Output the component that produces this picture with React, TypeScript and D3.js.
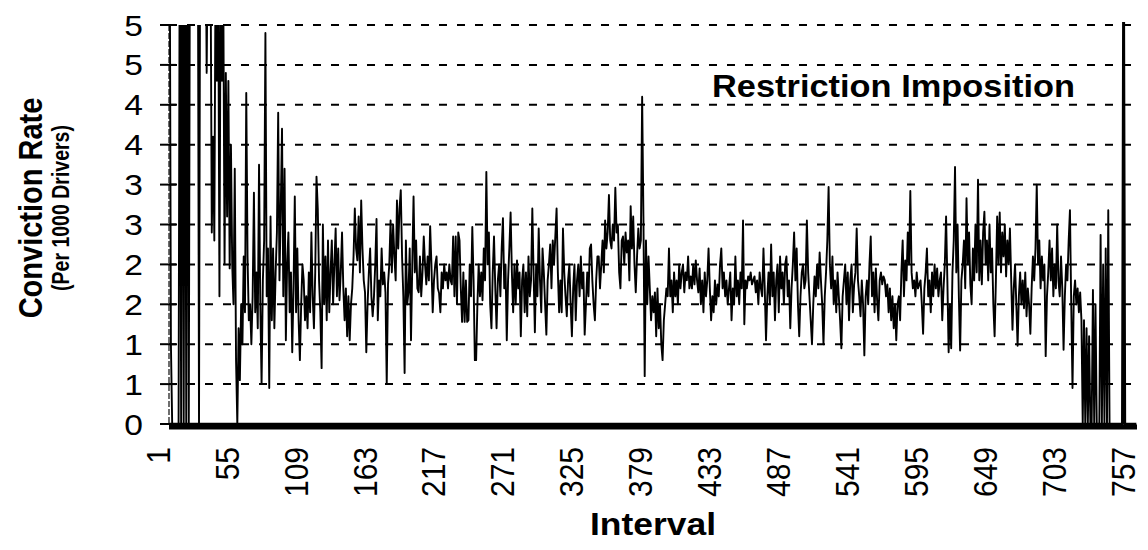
import React from "react";
import * as d3 from "d3";

const intervalTicks = [1, 55, 109, 163, 217, 271, 325, 379, 433, 487, 541, 595, 649, 703, 757];
const yTickValues = [0, 0.5, 1, 1.5, 2, 2.5, 3, 3.5, 4, 4.5, 5];
const yTickLabels = ["0", "1", "1", "2", "2", "3", "3", "4", "4", "5", "5"];
const categoryCount = 758;
const restrictionInterval = 748;
const restrictionPeak = 6;
const annotation = "Restriction Imposition";

const convictionRate = [
  6.5, 1.0, 0, 0, 0, 0, 0, 0, 7, 0,
  7, 0, 7, 0, 7, 0, 7, 6.5, 7, 6.8,
  7, 6.5, 7, 0, 7, 6.5, 7, 6.2, 6.8, 4.4,
  6.5, 7, 6, 2.4, 3.6, 2.3, 6, 4.3, 6, 1.6,
  6, 4.3, 5.5, 2.0, 4.4, 2.6, 4.3, 1.95, 3.5, 2.0,
  1.5, 3.2, 0.8, 0, 1.2, 0.55, 1.5, 1.0, 2.1, 1.4,
  4.15, 2.1, 1.3, 1.5, 1.0, 1.6, 2.9, 1.4, 1.9, 1.2,
  3.25, 1.5, 0.5, 1.8, 2.3, 4.9, 1.6, 2.2, 0.45, 2.6,
  1.3, 2.2, 1.2, 1.9, 2.4, 3.9, 1.8, 2.7, 3.7, 1.6,
  3.2, 1.05, 2.0, 2.4, 1.4, 1.9, 0.9, 1.7, 2.85, 1.4,
  2.2, 1.3, 0.8, 1.5, 2.0, 1.8, 1.3, 1.6, 1.2, 1.9,
  1.4, 2.4, 1.6, 1.2, 1.9, 3.1, 2.7, 1.8, 1.4, 0.7,
  2.5, 1.5, 2.1, 1.3, 2.3, 1.4, 1.9, 2.3, 1.5, 2.0,
  2.45, 1.6, 2.2, 1.55, 1.9, 2.4, 1.7, 1.3, 1.7, 1.1,
  1.6, 1.05, 1.5, 1.7, 2.1, 2.7, 2.2, 2.05, 2.6, 1.9,
  2.8, 2.2, 1.8, 1.65, 0.9, 1.5, 1.9, 2.2, 1.6, 1.35,
  1.6, 2.0, 2.57, 1.3, 1.8, 1.6, 2.2, 1.75, 1.9, 1.65,
  0.5, 1.75, 2.0, 2.55, 1.9, 2.5, 2.1, 1.8, 2.8, 2.2,
  2.7, 2.93, 2.1, 1.6, 0.64, 2.3, 1.5, 1.65, 2.2, 1.05,
  2.0, 2.85, 1.9, 2.3, 1.7, 1.65, 2.1, 1.6, 1.9, 2.35,
  2.0, 1.75, 2.1, 1.8, 2.48, 2.0, 1.4, 1.8, 2.0, 2.1,
  1.7, 1.64, 1.4, 1.9, 1.7, 2.0, 1.8, 1.9, 1.7, 2.0,
  1.8, 1.75, 2.35, 1.6, 2.35, 1.5, 2.4, 2.3, 1.7, 1.28,
  1.9, 1.28, 1.8, 1.28, 1.3, 2.0, 1.6, 2.47, 1.8, 0.8,
  0.8, 1.5, 2.0, 1.6, 1.9, 1.55, 2.2, 1.8, 3.16, 2.0,
  2.4, 1.5, 1.2, 1.9, 2.35, 1.7, 1.2, 1.8, 2.0, 1.6,
  2.2, 2.58, 1.7, 2.0, 1.05, 1.8, 2.2, 2.65, 1.9, 1.4,
  2.0, 1.5, 2.05, 1.7, 1.9, 1.1, 1.8, 2.0, 1.4, 1.9,
  1.35, 2.1, 1.6, 1.8, 2.7, 1.9, 1.15, 2.0, 1.6, 2.45,
  1.8, 1.4, 2.2, 1.9, 1.5, 1.12, 1.8, 2.0, 2.25, 1.7,
  2.3, 2.0, 2.35, 2.7, 1.9, 1.4, 1.8, 1.4, 2.45, 1.9,
  1.6, 1.35, 1.8, 2.0, 1.5, 1.1, 1.7, 2.0, 1.3, 1.8,
  2.0, 1.6, 2.1, 1.7, 1.9, 1.12, 1.5, 1.9, 1.6, 2.2,
  2.25, 1.8, 1.5, 1.3, 1.8, 2.1, 2.1, 1.7, 2.0, 2.3,
  1.9, 2.55, 2.2, 2.4, 2.87, 2.3, 2.2, 2.5, 2.3, 2.96,
  2.4, 2.5, 1.9, 1.7, 2.3, 2.35, 2.0, 2.4, 2.15, 2.3,
  1.8, 2.73, 2.2, 2.6, 2.0, 1.65, 2.1, 2.45, 2.2, 2.3,
  4.1, 2.6, 0.6, 2.3, 1.5, 2.1, 1.7, 1.3, 1.6, 1.4,
  1.65, 1.1, 1.7, 1.2, 1.5, 1.0, 0.8, 1.3, 1.5, 1.7,
  1.6, 2.2, 1.6, 1.8, 1.4, 1.9, 1.6, 1.8, 1.5, 2.0,
  1.7, 1.9, 2.0, 1.65, 1.9, 1.8, 2.1, 1.7, 1.85, 1.7,
  2.0, 1.75, 2.05, 1.8, 1.65, 1.95, 1.5, 1.8, 1.4, 1.9,
  1.6, 1.8, 2.2, 1.7, 1.3, 1.6, 1.4, 1.8, 1.5, 1.75,
  1.6, 2.0, 2.2, 1.7, 1.9, 1.6, 1.8, 1.5, 1.7, 1.9,
  1.3, 1.7, 1.5, 2.1, 1.6, 1.8, 1.5, 1.9, 1.7, 2.55,
  1.25, 1.8, 1.7, 1.85, 1.8, 1.9, 1.75, 1.8, 1.85, 1.65,
  1.8, 1.5, 1.9, 1.7, 1.6, 2.2, 1.7, 1.05, 1.6, 1.9,
  1.5, 2.25, 1.6, 1.9, 1.3, 1.8, 2.0, 1.4, 2.1, 1.7,
  1.9, 1.5, 2.0, 2.1, 1.6, 1.8, 1.2, 1.7, 2.0, 2.4,
  1.8, 2.2, 1.5, 1.1, 1.6, 1.9, 2.0, 1.7, 1.8, 2.55,
  1.9, 1.6, 1.3, 1.0, 1.5, 1.85, 1.6, 2.0, 1.7, 2.15,
  1.8, 1.5, 1.0, 1.6, 1.9, 2.3, 2.97, 2.0, 1.7, 2.1,
  1.5, 1.8, 1.4, 1.9, 1.6, 1.3, 0.95, 1.6, 1.8, 2.0,
  1.5, 1.9, 1.3, 1.8, 2.0, 1.4, 1.75, 1.9, 2.45, 1.8,
  1.6, 1.35, 1.8, 1.5, 0.86, 1.6, 1.8, 1.5, 2.0, 2.35,
  1.6, 1.9, 1.4, 1.95, 1.55, 1.3, 1.8, 1.9, 1.75, 1.85,
  1.8, 1.6, 1.75, 1.4, 1.7, 1.3, 1.6, 1.2, 1.5, 1.05,
  1.5, 1.6, 1.3, 1.9, 2.3, 1.6, 2.05, 1.8, 2.4, 2.0,
  2.92, 1.9, 1.7, 1.8, 1.6, 1.9, 1.7, 1.75, 1.8, 1.5,
  1.13, 1.7, 1.9, 2.2, 1.6, 1.8, 1.4, 1.9, 1.6, 2.0,
  1.7, 1.95, 1.6, 1.8, 1.9, 1.3, 1.7, 2.0, 2.6, 1.8,
  0.9, 1.5, 0.95, 1.9, 2.3, 3.22, 1.9, 2.5, 1.6, 0.92,
  1.8, 2.0, 2.3, 1.7, 2.83, 2.0, 2.4, 1.75, 1.5, 2.2,
  1.8, 2.5, 1.9, 3.06, 1.8, 2.3, 1.75, 2.4, 2.66, 2.0,
  2.3, 1.8, 2.5, 1.9, 2.2, 1.5, 1.1, 1.8, 2.6, 2.0,
  2.65, 1.9, 2.4, 2.1, 2.5, 1.85, 2.3, 2.0, 2.45, 1.8,
  1.18, 1.7, 2.0, 1.5, 0.98, 1.6, 1.9, 1.5, 1.8, 1.45,
  1.9, 1.35, 1.7, 1.5, 1.13, 1.7, 2.1, 1.8, 2.2, 3.0,
  2.0, 2.3, 1.7, 2.1, 1.8, 2.0, 0.85, 1.6, 1.9, 2.3,
  1.8, 2.2, 1.6, 2.0, 1.7, 2.5, 1.8, 1.6, 2.1, 1.7,
  0.93, 1.6, 2.0, 1.8, 2.3, 2.68, 1.5, 0.45, 1.6, 1.8,
  1.5, 1.7, 1.4, 1.65, 1.3, 0, 1.3, 0, 1.2, 0,
  1.1, 0, 0, 1.68, 0, 1.5, 0, 0, 0, 2.37,
  0, 2.0, 0, 2.2, 0, 2.68, 0, 0,
];

const FONT = "Arial, 'Liberation Sans', Helvetica, sans-serif";

export default function App() {
  const W = 1148;
  const H = 550;
  const left = 169;
  const right = 1137;
  const top = 25;
  const bottom = 424;

  const x = d3.scaleLinear().domain([0.5, categoryCount + 0.5]).range([left, right]);
  const y = d3.scaleLinear().domain([0, 5]).range([bottom, top]);

  const rateLine = d3
    .line<number>()
    .x((_, i) => x(i + 1))
    .y((d) => y(d));

  const restrictionSeries = d3
    .range(1, categoryCount + 1)
    .map((c) => (c === restrictionInterval ? restrictionPeak : 0));

  const restrictionLine = d3
    .line<number>()
    .x((_, i) => x(i + 1))
    .y((d) => y(d));

  return (
    <svg
      width={W}
      height={H}
      viewBox={`0 0 ${W} ${H}`}
      style={{ position: "absolute", left: 0, top: 0, background: "#fff" }}
      fontFamily={FONT}
    >
      <defs>
        <clipPath id="plotClip">
          <rect x={left} y={top} width={right - left + 4} height={bottom - top + 8} />
        </clipPath>
        <clipPath id="restrClip">
          <rect x={left} y={top - 3} width={right - left + 4} height={bottom - top + 11} />
        </clipPath>
      </defs>
      <rect width={W} height={H} fill="#fff" />

      {/* gridlines */}
      {yTickValues
        .filter((v) => v > 0)
        .map((v) => (
          <line
            key={"g" + v}
            x1={left}
            x2={1140}
            y1={y(v)}
            y2={y(v)}
            stroke="#000"
            strokeWidth={2}
            strokeDasharray="8,10"
          />
        ))}

      {/* y axis */}
      <line x1={left} x2={left} y1={top} y2={bottom} stroke="#222" strokeWidth={1.3} strokeDasharray="6,2" />
      {yTickValues.map((v, i) => (
        <g key={"yt" + v}>
          <line x1={160} x2={176} y1={y(v)} y2={y(v)} stroke="#000" strokeWidth={2} />
          <text
            transform={`translate(143, ${y(v) + 10.5}) scale(1.12, 1)`}
            textAnchor="end"
            fontSize={30}
            fill="#000"
          >
            {yTickLabels[i]}
          </text>
        </g>
      ))}

      {/* main series */}
      <g clipPath="url(#plotClip)">
        <path
          d={rateLine(convictionRate) || ""}
          fill="none"
          stroke="#000"
          strokeWidth={1.9}
          strokeLinejoin="round"
        />
      </g>

      {/* restriction imposition series */}
      <g clipPath="url(#restrClip)">
        <path
          d={restrictionLine(restrictionSeries) || ""}
          fill="none"
          stroke="#000"
          strokeWidth={2.6}
          strokeLinejoin="round"
        />
      </g>

      {/* x axis (heavy) */}
      <line x1={left} x2={right} y1={427} y2={427} stroke="#000" strokeWidth={5} />

      {/* x tick labels */}
      {intervalTicks.map((t) => (
        <text
          key={"xt" + t}
          transform={`translate(${x(t)}, 447) rotate(-90) scale(1, 1.08)`}
          textAnchor="end"
          fontSize={30}
          fill="#000"
        >
          {t}
        </text>
      ))}

      {/* annotation */}
      <text
        x={712}
        y={97}
        fontSize={30.5}
        fontWeight="bold"
        textLength={363}
        lengthAdjust="spacingAndGlyphs"
        fill="#000"
      >
        {annotation}
      </text>

      {/* axis titles */}
      <text
        transform="translate(42, 208) rotate(-90) scale(1, 1.15)"
        textAnchor="middle"
        fontSize={29}
        fontWeight="bold"
        fill="#000"
      >
        Conviction Rate
      </text>
      <text
        transform="translate(69, 208) rotate(-90) scale(1, 1.25)"
        textAnchor="middle"
        fontSize={19.5}
        fontWeight="bold"
        fill="#000"
      >
        (Per 1000 Drivers)
      </text>
      <text
        x={653}
        y={535}
        textAnchor="middle"
        fontSize={31}
        fontWeight="bold"
        textLength={126}
        lengthAdjust="spacingAndGlyphs"
        fill="#000"
      >
        Interval
      </text>
    </svg>
  );
}
